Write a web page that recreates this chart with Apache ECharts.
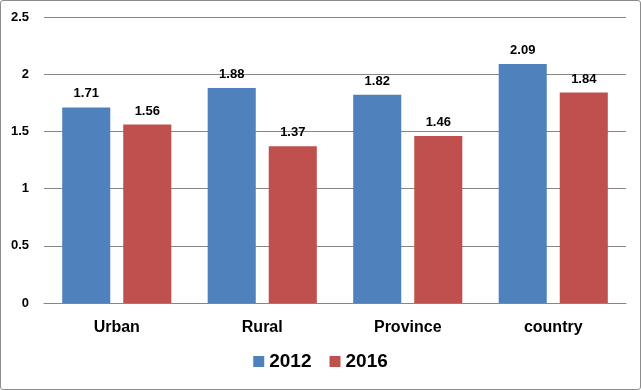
<!DOCTYPE html>
<html><head><meta charset="utf-8">
<script src="https://cdn.jsdelivr.net/npm/echarts@6/dist/echarts.min.js"></script>
<style>
html,body{margin:0;padding:0;background:#fff;}
#c{position:absolute;left:0;top:0;width:639px;height:388px;border:1px solid #8c8c8c;border-radius:3px;}
</style></head><body>
<div id="c"></div>
<script>
const categories = ['Urban', 'Rural', 'Province', 'country'];
const values2012 = [1.71, 1.88, 1.82, 2.09];
const values2016 = [1.56, 1.37, 1.46, 1.84];
const yTicks = { min: 0, max: 2.5, interval: 0.5 };

const chart = echarts.init(document.getElementById('c'));
const fontFam = '"Liberation Sans", Arial, sans-serif';
const lbl = { show: true, position: 'top', distance: 7, fontWeight: 'bold', fontSize: 13, color: '#000', fontFamily: fontFam,
  formatter: p => p.value.toFixed(2) };
chart.setOption({
  animation: false,
  grid: { left: 43, right: 14, top: 16, bottom: 86, containLabel: false },
  legend: {
    bottom: 13, left: 'center', itemWidth: 11, itemHeight: 11, itemGap: 18, icon: 'rect',
    textStyle: { fontSize: 19, fontWeight: 'bold', color: '#000', fontFamily: fontFam }
  },
  xAxis: {
    type: 'category', data: categories,
    axisTick: { show: false },
    axisLine: { lineStyle: { color: '#868686' } },
    axisLabel: { fontSize: 16, fontWeight: 'bold', color: '#000', margin: 17, fontFamily: fontFam }
  },
  yAxis: {
    type: 'value', min: yTicks.min, max: yTicks.max, interval: yTicks.interval,
    axisLine: { show: false }, axisTick: { show: false },
    splitLine: { lineStyle: { color: '#868686' } },
    axisLabel: { fontSize: 13, fontWeight: 'bold', color: '#000', margin: 15, fontFamily: fontFam,
      formatter: v => String(v) }
  },
  series: [
    { name: '2012', type: 'bar', data: values2012, itemStyle: { color: '#4F81BD' },
      barGap: '27%', barCategoryGap: '25%', label: lbl },
    { name: '2016', type: 'bar', data: values2016, itemStyle: { color: '#C0504D' },
      barGap: '27%', barCategoryGap: '25%', label: lbl }
  ]
});
</script></body></html>
